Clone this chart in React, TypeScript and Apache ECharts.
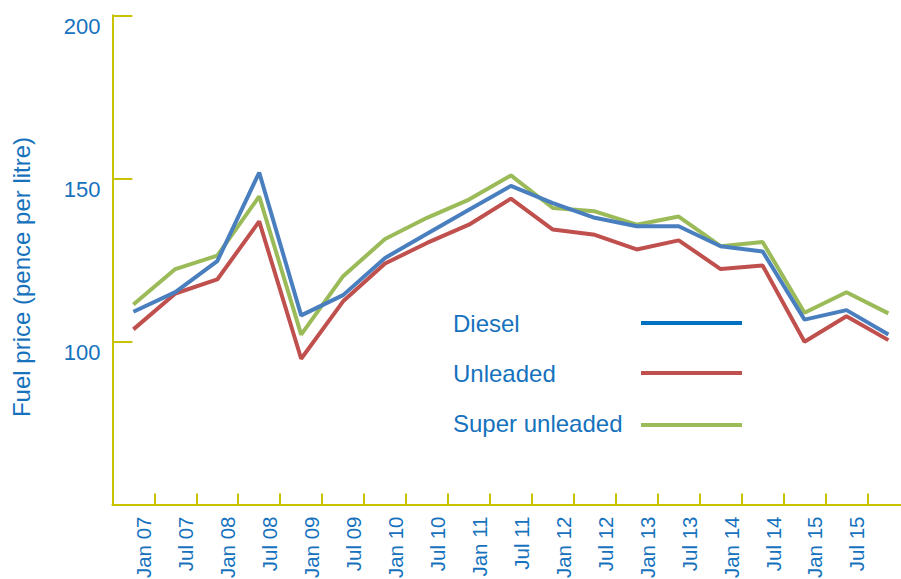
import React, { useEffect, useRef } from "react";
import * as echarts from "echarts";

const tickLabels = [
  "Jan 07", "Jul 07", "Jan 08", "Jul 08", "Jan 09", "Jul 09", "Jan 10", "Jul 10", "Jan 11",
  "Jul 11", "Jan 12", "Jul 12", "Jan 13", "Jul 13", "Jan 14", "Jul 14", "Jan 15", "Jul 15",
];

const diesel = [109.1, 115.1, 124.6, 151.8, 108.0, 114.2, 125.6, 133.0, 140.4, 147.7, 142.4, 137.9, 135.3, 135.3, 129.2, 127.6, 106.7, 109.6, 102.1];
const unleaded = [103.7, 114.7, 119.0, 136.8, 94.7, 112.3, 123.9, 130.2, 135.8, 143.8, 134.3, 132.7, 128.2, 131.0, 122.2, 123.3, 99.9, 107.7, 100.4];
const superUnleaded = [111.3, 122.2, 126.3, 144.5, 102.1, 120.0, 131.4, 137.9, 143.5, 150.9, 140.9, 139.9, 135.8, 138.3, 129.2, 130.5, 108.8, 115.1, 108.6];

const seriesNames = ["Diesel", "Unleaded", "Super unleaded"];
const yTitle = "Fuel price (pence per litre)";

const FONT = "'Liberation Sans', Arial, Helvetica, sans-serif";
const TEXT = "#1672bd";
const AXIS = "#c8c200";
const C_DIESEL = "#4a7fbf";
const C_UNL = "#c0504d";
const C_SUP = "#9bbb59";
const LEG = ["#0070c0", "#c0504d", "#9bbb59"];

const toPoints = (arr: number[]) => arr.map((v, i) => [i + 0.5, v]);

export default function App() {
  const ref = useRef<HTMLDivElement>(null);
  useEffect(() => {
    document.documentElement.style.overflow = "hidden";
    document.body.style.margin = "0";
    document.body.style.overflow = "hidden";
    if (!ref.current) return;
    const chart = echarts.init(ref.current, null, { renderer: "svg" });
    const legendGraphics: any[] = [];
    seriesNames.forEach((n, i) => {
      const y = 323 + i * 50;
      legendGraphics.push({
        type: "text",
        x: 453,
        y: y,
        style: { text: n, fill: TEXT, font: `24px ${FONT}`, align: "left", verticalAlign: "middle" },
      });
      legendGraphics.push({
        type: "line",
        shape: { x1: 641, y1: y + (i === 2 ? 2 : 0), x2: 742, y2: y + (i === 2 ? 2 : 0) },
        style: { stroke: LEG[i], lineWidth: 4 },
      });
    });
    chart.setOption({
      animation: false,
      backgroundColor: "#ffffff",
      grid: { left: 112.4, right: 0, top: 15.3, bottom: 74.5, containLabel: false, outerBoundsMode: "none" },
      xAxis: {
        type: "value",
        min: 0,
        max: 18.8,
        interval: 1,
        splitLine: { show: false },
        axisLine: { show: true, lineStyle: { color: AXIS, width: 2 } },
        axisTick: { show: true, inside: true, length: 11, lineStyle: { color: AXIS, width: 2 } },
        axisLabel: {
          rotate: 90,
          margin: 12,
          verticalAlign: "bottom",
          color: TEXT,
          fontSize: 20.5,
          fontFamily: FONT,
          showMinLabel: false,
          showMaxLabel: false,
          formatter: (v: number) => (Number.isInteger(v) ? tickLabels[v - 1] ?? "" : ""),
        },
      },
      yAxis: {
        type: "value",
        min: 50,
        max: 200,
        interval: 50,
        splitLine: { show: false },
        axisLine: { show: true, lineStyle: { color: AXIS, width: 2 } },
        axisTick: { show: true, inside: true, length: 20, lineStyle: { color: AXIS, width: 2 } },
        axisLabel: {
          margin: 12,
          verticalAlign: "top",
          color: TEXT,
          fontSize: 22,
          fontFamily: FONT,
          showMinLabel: false,
        },
      },
      graphic: [
        {
          type: "text",
          x: 21,
          y: 277,
          rotation: Math.PI / 2,
          style: { text: yTitle, fill: TEXT, font: `24px ${FONT}`, align: "center", verticalAlign: "middle" },
        },
        ...legendGraphics,
      ],
      series: [
        {
          name: seriesNames[1],
          type: "line",
          data: toPoints(unleaded),
          showSymbol: false,
          lineStyle: { color: C_UNL, width: 4 },
          itemStyle: { color: C_UNL },
        },
        {
          name: seriesNames[2],
          type: "line",
          data: toPoints(superUnleaded),
          showSymbol: false,
          lineStyle: { color: C_SUP, width: 4 },
          itemStyle: { color: C_SUP },
        },
        {
          name: seriesNames[0],
          type: "line",
          data: toPoints(diesel),
          showSymbol: false,
          lineStyle: { color: C_DIESEL, width: 4 },
          itemStyle: { color: C_DIESEL },
        },
      ],
    });
    return () => chart.dispose();
  }, []);
  return (
    <div
      ref={ref}
      style={{ position: "fixed", left: 0, top: 0, width: 901, height: 579, overflow: "hidden" }}
    />
  );
}
